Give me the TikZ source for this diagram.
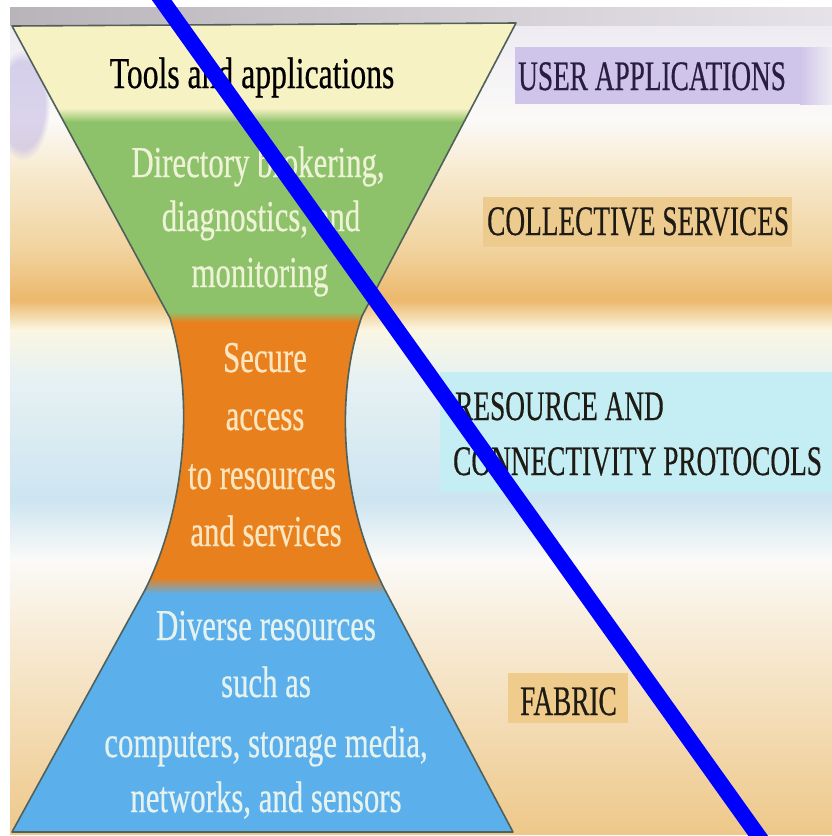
\documentclass[tikz,border=0pt]{standalone}
\usepackage{fontspec}
\setmainfont{Liberation Serif}[FakeBold=0.6]
\usepackage{graphicx}
\usetikzlibrary{fadings}
\newcommand{\cnd}[2][0.70]{\scalebox{#1}[1]{#2}}
\definecolor{hgyellow}{HTML}{F7F2C4}
\definecolor{hggreen}{HTML}{8EC26A}
\definecolor{hgorange}{HTML}{E8801E}
\definecolor{hgblue}{HTML}{5BB0EC}
\definecolor{txgreen}{HTML}{EEF3D8}
\definecolor{txorange}{HTML}{FBE6C0}
\definecolor{txblue}{HTML}{E6F2EE}
\definecolor{hgline}{HTML}{50605A}
\definecolor{lavbox}{HTML}{CFC5EA}
\definecolor{lavhaze}{HTML}{BFB4E2}
\definecolor{tanbox}{HTML}{EDCB8E}
\definecolor{cyanbox}{HTML}{C4EEF4}
\definecolor{fabbox}{HTML}{EFCB8C}
\definecolor{ink}{HTML}{1E1A14}
\definecolor{inkpurple}{HTML}{2A1E40}
\definecolor{bandA}{HTML}{EEECF2}
\definecolor{bandB}{HTML}{FBFAF8}
\definecolor{bandC}{HTML}{F7EAD0}
\definecolor{bandD}{HTML}{F1D39E}
\definecolor{bandE}{HTML}{ECB86C}
\definecolor{bandF}{HTML}{FAF6E2}
\definecolor{bandG}{HTML}{E6F1F3}
\definecolor{bandH}{HTML}{CDE5F1}
\definecolor{bandI}{HTML}{F8EEDC}
\definecolor{bandJ}{HTML}{EEC88A}
\definecolor{greybar}{HTML}{B9B4B9}
\definecolor{greybarlt}{HTML}{E6E3E8}
\definecolor{slash}{HTML}{0000FF}
\begin{document}
\begin{tikzpicture}[x=1pt,y=-1pt,
  lower/.style={inner sep=0pt, anchor=base, font=\fontsize{44}{44}\selectfont},
  capslbl/.style={inner sep=0pt, anchor=base west, font=\fontsize{42}{42}\selectfont, text=ink}]
\useasboundingbox (0,0) rectangle (832,836);
% background
\fill[white] (0,0) rectangle (832,836);
\shade[left color=greybar, right color=greybarlt] (10,7) rectangle (832,26);
\shade[top color=bandA, bottom color=bandB] (10,26) rectangle (832,120);
\shade[top color=bandB, bottom color=bandC] (10,120) rectangle (832,170);
\shade[top color=bandC, bottom color=bandD] (10,170) rectangle (832,250);
\shade[top color=bandD, bottom color=bandE] (10,250) rectangle (832,300);
\shade[top color=bandE, bottom color=bandF] (10,300) rectangle (832,330);
\shade[top color=bandF, bottom color=bandG] (10,330) rectangle (832,380);
\shade[top color=bandG, bottom color=bandH] (10,380) rectangle (832,500);
\shade[top color=bandH, bottom color=bandB] (10,500) rectangle (832,560);
\shade[top color=bandB, bottom color=bandI] (10,560) rectangle (832,620);
\shade[top color=bandI, bottom color=bandJ] (10,620) rectangle (832,834);
\fill[lavhaze, opacity=0.55, path fading=circle with fuzzy edge 20 percent] (-5,50) rectangle (50,160);
\fill[white] (0,0) rectangle (10,836);
% label boxes
\fill[lavbox] (515,47) rectangle (800,104);
\shade[left color=lavbox, right color=bandA] (800,47) rectangle (832,104);
\fill[tanbox] (483,197) rectangle (792,247);
\fill[cyanbox] (440,372) rectangle (832,492);
\fill[fabbox] (508,673) rectangle (628,723);
% hourglass
\begin{scope}
\clip (12,26) -- (516,23) -- (362,316) .. controls (336,390) and (338,500) .. (386,592)
  -- (513,832) -- (12,832) -- (145,590) .. controls (185,510) and (195,400) .. (170,318) -- cycle;
\fill[hgyellow] (0,0) rectangle (832,108);
\shade[top color=hgyellow, bottom color=hggreen] (0,108) rectangle (832,122);
\fill[hggreen] (0,122) rectangle (832,312);
\shade[top color=hggreen, bottom color=hgorange] (0,312) rectangle (832,322);
\fill[hgorange] (0,322) rectangle (832,578);
\shade[top color=hgorange, bottom color=hgblue] (0,578) rectangle (832,594);
\fill[hgblue] (0,594) rectangle (832,840);
\end{scope}
\draw[hgline, line width=1.6pt, line join=round]
  (12,26) -- (516,23) -- (362,316) .. controls (336,390) and (338,500) .. (386,592)
  -- (513,832) -- (12,832) -- (145,590) .. controls (185,510) and (195,400) .. (170,318) -- cycle;
% texts in hourglass
\node[lower, text=black] (tools) at (252,88) {\cnd[0.72]{Tools and applications}};
\node[lower, text=txgreen] (g1) at (258,177) {\cnd{Directory brokering,}};
\node[lower, text=txgreen] (g2) at (261,231) {\cnd{diagnostics, and}};
\node[lower, text=txgreen] (g3) at (260,287) {\cnd{monitoring}};
\node[lower, text=txorange] (o1) at (265,372) {\cnd{Secure}};
\node[lower, text=txorange] (o2) at (265,430) {\cnd{access}};
\node[lower, text=txorange] (o3) at (262,489) {\cnd{to resources}};
\node[lower, text=txorange] (o4) at (266,546) {\cnd{and services}};
\node[lower, text=txblue] (b1) at (266,640) {\cnd{Diverse resources}};
\node[lower, text=txblue] (b2) at (266,697) {\cnd{such as}};
\node[lower, text=txblue] (b3) at (266,757) {\cnd{computers, storage media,}};
\node[lower, text=txblue] (b4) at (266,812) {\cnd{networks, and sensors}};
% right labels
\node[capslbl, text=inkpurple] (ua) at (518,90) {\cnd[0.65]{USER APPLICATIONS}};
\node[capslbl] (cs) at (487,235) {\cnd[0.65]{COLLECTIVE SERVICES}};
\node[capslbl] (rc1) at (455,420) {\cnd[0.65]{RESOURCE AND}};
\node[capslbl] (rc2) at (453,475) {\cnd[0.65]{CONNECTIVITY PROTOCOLS}};
\node[capslbl] (fab) at (520,715) {\cnd[0.65]{FABRIC}};
% diagonal stroke
\coordinate (slashtop) at (156,-8);
\coordinate (slashbot) at (764,844);
\draw[slash, line width=16pt] (slashtop) -- (slashbot);
\end{tikzpicture}
\end{document}
